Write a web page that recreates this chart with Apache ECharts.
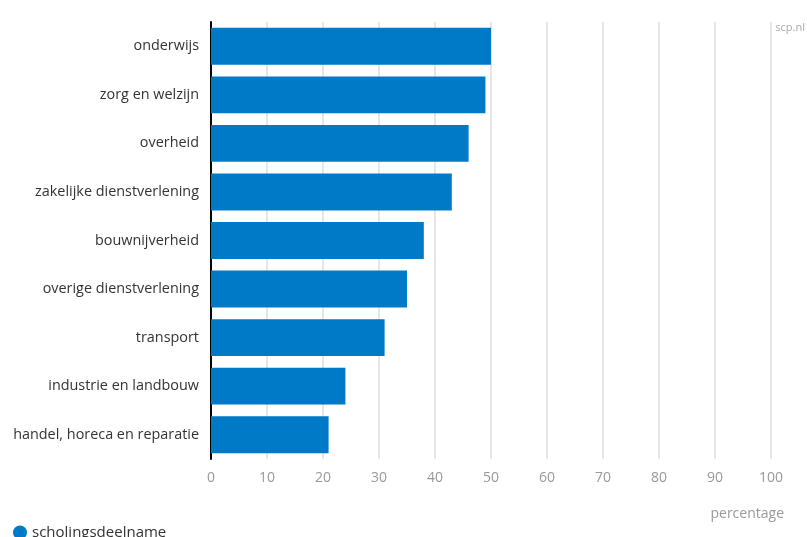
<!DOCTYPE html>
<html><head><meta charset="utf-8">
<script src="https://cdn.jsdelivr.net/npm/echarts@6/dist/echarts.min.js"></script>
<style>html,body{margin:0;padding:0;background:#fff}#c{width:807px;height:537px}</style>
</head><body><div id="c"></div>
<script>
const categories = ["onderwijs","zorg en welzijn","overheid","zakelijke dienstverlening","bouwnijverheid","overige dienstverlening","transport","industrie en landbouw","handel, horeca en reparatie"];
const values = [50,49,46,43,38,35,31,24,21];
const seriesName = "scholingsdeelname";
const xTicks = [0,10,20,30,40,50,60,70,80,90,100];
const xTitle = "percentage";
const credit = "scp.nl";

const FONT = "Open Sans";
const chart = echarts.init(document.getElementById('c'), null, {renderer:'canvas'});
chart.setOption({
  animation:false,
  textStyle:{fontFamily:FONT},
  grid:{left:211,top:22,width:560,height:437,containLabel:false},
  legend:{show:true,left:8,top:520,icon:'circle',itemWidth:14,itemHeight:14,itemGap:6,
    textStyle:{fontFamily:FONT,fontSize:15,color:'#333'},data:[seriesName]},
  graphic:[
    {type:'text',right:2,top:22,style:{text:credit,fontFamily:FONT,fontSize:11,fill:'#aaa'}}
  ],
  xAxis:{type:'value',min:xTicks[0],max:xTicks[xTicks.length-1],interval:10,
    name:xTitle,nameLocation:'end',nameGap:0,
    nameTextStyle:{fontFamily:FONT,fontSize:14,color:'#999',align:'right',verticalAlign:'top',padding:[48,-13,0,0]},
    axisLine:{show:false},axisTick:{show:false},
    axisLabel:{color:'#999',fontSize:14,fontFamily:FONT,margin:12},
    splitLine:{show:true,lineStyle:{color:'#e6e6e6',width:2}}},
  yAxis:{type:'category',inverse:true,data:categories,
    axisLine:{show:true,lineStyle:{color:'#000',width:2}},axisTick:{show:false},
    axisLabel:{color:'#333',fontSize:14.4,fontFamily:FONT,margin:12}},
  series:[{name:seriesName,type:'bar',data:values,barCategoryGap:'24%',
    itemStyle:{color:'#0079c6'}}]
});
</script></body></html>
